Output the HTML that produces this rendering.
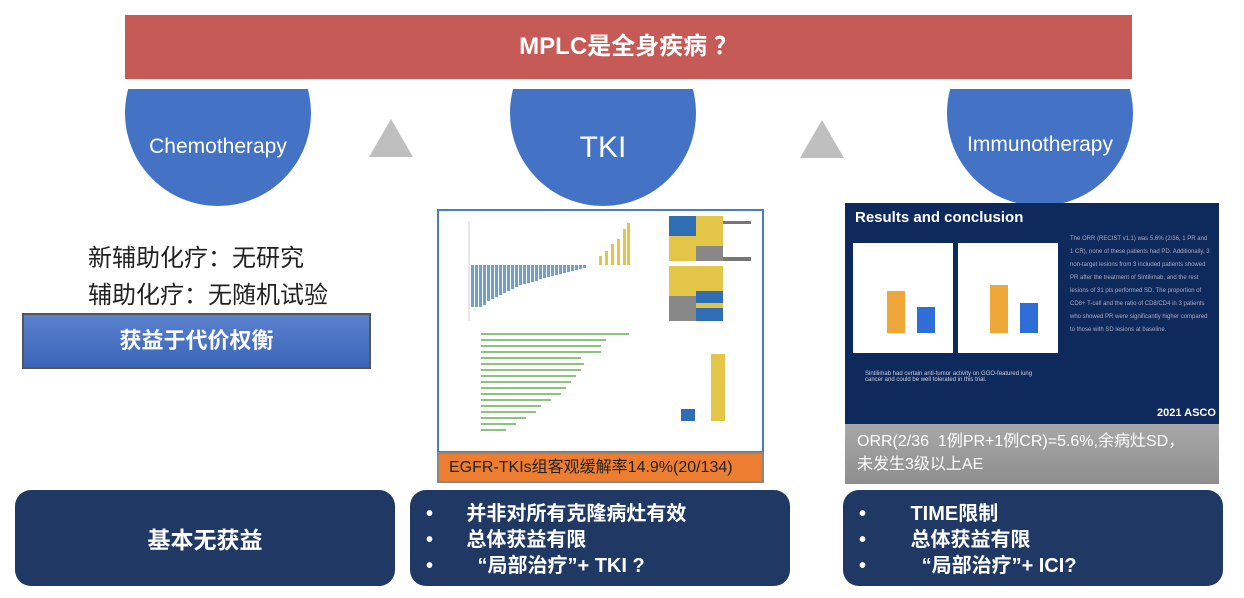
<!DOCTYPE html>
<html><head><meta charset="utf-8"><style>
*{margin:0;padding:0;box-sizing:border-box}
body{width:1244px;height:598px;background:#fff;position:relative;overflow:hidden;font-family:"Liberation Sans","Noto Sans CJK SC",sans-serif}
.a{position:absolute}
.circ{position:absolute;top:89px;height:118px;overflow:hidden}
.circ div{position:absolute;width:186px;height:186px;border-radius:50%;background:#4472c4;top:-69px;left:0}
.circ span{position:absolute;left:0;width:186px;text-align:center;color:#fff;z-index:2}
.box{position:absolute;top:490px;height:96px;background:#1f3864;border-radius:16px;color:#fff;font-weight:bold;font-size:20px}
.box p{position:absolute;left:0;white-space:nowrap;line-height:24px}
</style></head><body>
<div class="a" style="left:125px;top:15px;width:1007px;height:64px;background:#c55a56;color:#fff;font-weight:bold;font-size:24px;text-align:center;line-height:64px">MPLC是全身疾病 ？</div>

<div class="circ" style="left:125px;width:186px"><div></div><span style="top:46px;font-size:21px">Chemotherapy</span></div>
<div class="circ" style="left:510px;width:187px"><div></div><span style="top:42px;font-size:30px">TKI</span></div>
<div class="circ" style="left:947px;width:186px"><div></div><span style="top:44px;font-size:21px">Immunotherapy</span></div>

<svg class="a" style="left:0;top:0" width="1244" height="598">
<polygon points="369,157 413,157 391,119" fill="#bfbfbf"/>
<polygon points="800,158 844,158 822,120" fill="#bfbfbf"/>
</svg>

<div class="a" style="left:88px;top:240px;font-size:24px;color:#222;line-height:37px">新辅助化疗：无研究<br>辅助化疗：无随机试验</div>
<div class="a" style="left:22px;top:313px;width:349px;height:56px;background:linear-gradient(#5b82cf,#3a64b8);border:2px solid #555;color:#fff;font-weight:bold;font-size:22px;text-align:center;line-height:52px">获益于代价权衡</div>

<!-- TKI image -->
<div class="a" style="left:437px;top:209px;width:327px;height:244px;border:2px solid #4a7bc8;background:#fff">
<svg width="323" height="240">
<line x1="30" y1="10" x2="30" y2="110" stroke="#999" stroke-width="0.5"/>
<g fill="#6fa0d0">
<rect x="32" y="54" width="3" height="42"/><rect x="36" y="54" width="3" height="42"/><rect x="40" y="54" width="3" height="42"/><rect x="44" y="54" width="3" height="40"/><rect x="48" y="54" width="3" height="36"/><rect x="52" y="54" width="3" height="34"/><rect x="56" y="54" width="3" height="32"/><rect x="60" y="54" width="3" height="30"/><rect x="64" y="54" width="3" height="28"/><rect x="68" y="54" width="3" height="26"/><rect x="72" y="54" width="3" height="24"/><rect x="76" y="54" width="3" height="22"/><rect x="80" y="54" width="3" height="20"/><rect x="84" y="54" width="3" height="19"/><rect x="88" y="54" width="3" height="18"/><rect x="92" y="54" width="3" height="17"/><rect x="96" y="54" width="3" height="16"/><rect x="100" y="54" width="3" height="14"/><rect x="104" y="54" width="3" height="13"/><rect x="108" y="54" width="3" height="12"/><rect x="112" y="54" width="3" height="11"/><rect x="116" y="54" width="3" height="10"/><rect x="120" y="54" width="3" height="9"/><rect x="124" y="54" width="3" height="8"/><rect x="128" y="54" width="3" height="7"/><rect x="132" y="54" width="3" height="6"/><rect x="136" y="54" width="3" height="5"/><rect x="140" y="54" width="3" height="4"/><rect x="144" y="54" width="3" height="3"/>
</g>
<g fill="#e3c547"><rect x="160" y="45" width="3" height="9"/><rect x="166" y="40" width="3" height="14"/><rect x="172" y="33" width="3" height="21"/><rect x="178" y="28" width="3" height="26"/><rect x="184" y="18" width="3" height="36"/><rect x="188" y="12" width="3" height="42"/></g>
<g fill="#8cc47e">
<rect x="42" y="122" width="148" height="2"/><rect x="42" y="128" width="125" height="2"/><rect x="42" y="134" width="120" height="2"/><rect x="42" y="140" width="120" height="2"/><rect x="42" y="146" width="100" height="2"/><rect x="42" y="152" width="103" height="2"/><rect x="42" y="158" width="100" height="2"/><rect x="42" y="164" width="95" height="2"/><rect x="42" y="170" width="90" height="2"/><rect x="42" y="176" width="85" height="2"/><rect x="42" y="182" width="80" height="2"/><rect x="42" y="188" width="70" height="2"/><rect x="42" y="194" width="60" height="2"/><rect x="42" y="200" width="55" height="2"/><rect x="42" y="206" width="45" height="2"/><rect x="42" y="212" width="35" height="2"/><rect x="42" y="218" width="25" height="2"/>
</g>
<rect x="230" y="5" width="27" height="20" fill="#2f6eb5"/><rect x="257" y="5" width="27" height="20" fill="#e3c547"/>
<rect x="230" y="25" width="54" height="25" fill="#e3c547"/><rect x="257" y="35" width="27" height="15" fill="#888"/>
<rect x="284" y="10" width="28" height="3" fill="#777"/><rect x="284" y="46" width="28" height="4" fill="#777"/>
<rect x="230" y="55" width="54" height="30" fill="#e3c547"/><rect x="230" y="85" width="27" height="25" fill="#888"/><rect x="257" y="80" width="27" height="30" fill="#2f6eb5"/><rect x="257" y="92" width="27" height="5" fill="#e3c547"/>
<rect x="242" y="198" width="14" height="12" fill="#2f6eb5"/><rect x="272" y="143" width="14" height="67" fill="#e3c547"/>
</svg></div>
<div class="a" style="left:437px;top:452px;width:327px;height:31px;background:#ed7d31;border:2px solid #888;color:#222;font-size:16px;line-height:27px;padding-left:10px">EGFR-TKIs组客观缓解率14.9%(20/134)</div>

<!-- Immuno image -->
<div class="a" style="left:845px;top:203px;width:374px;height:225px;background:#0e2a5c">
<div class="a" style="left:10px;top:6px;color:#fff;font-weight:bold;font-size:15px">Results and conclusion</div>
<div class="a" style="left:8px;top:40px;width:100px;height:110px;background:#fff"><div class="a" style="left:34px;top:48px;width:18px;height:42px;background:#f0a73a"></div><div class="a" style="left:64px;top:64px;width:18px;height:26px;background:#2f6ed8"></div></div>
<div class="a" style="left:113px;top:40px;width:100px;height:110px;background:#fff"><div class="a" style="left:32px;top:42px;width:18px;height:48px;background:#f0a73a"></div><div class="a" style="left:62px;top:60px;width:18px;height:30px;background:#2f6ed8"></div></div>
<div class="a" style="left:225px;top:30px;width:140px;font-size:6px;color:#aab;line-height:13px">The ORR (RECIST v1.1) was 5.6% (2/36, 1 PR and 1 CR), none of these patients had PD. Additionally, 3 non-target lesions from 3 included patients showed PR after the treatment of Sintilimab, and the rest lesions of 31 pts performed SD. The proportion of CD8+ T-cell and the ratio of CD8/CD4 in 3 patients who showed PR were significantly higher compared to those with SD lesions at baseline.</div>
<div class="a" style="left:20px;top:168px;font-size:6px;color:#ccd;width:180px">Sintilimab had certain anti-tumor activity on GGO-featured lung cancer and could be well tolerated in this trial.</div>
<div class="a" style="left:312px;top:204px;color:#fff;font-weight:bold;font-size:11px">2021 ASCO</div>
</div>
<div class="a" style="left:845px;top:424px;width:374px;height:60px;background:linear-gradient(#a8a8a8,#8e8e8e);color:#fff;font-size:16px;line-height:23px;padding:6px 0 0 12px">ORR(2/36&nbsp; 1例PR+1例CR)=5.6%,余病灶SD，<br>未发生3级以上AE</div>

<div class="box" style="left:15px;width:380px;font-size:23px;text-align:center;line-height:100px">基本无获益</div>
<div class="box" style="left:410px;width:380px"><p style="top:12px;left:16px">•&nbsp;&nbsp;&nbsp;&nbsp;&nbsp;&nbsp;并非对所有克隆病灶有效</p><p style="top:38px;left:16px">•&nbsp;&nbsp;&nbsp;&nbsp;&nbsp;&nbsp;总体获益有限</p><p style="top:64px;left:16px">•&nbsp;&nbsp;&nbsp;&nbsp;&nbsp;&nbsp;&nbsp;&nbsp;“局部治疗”+ TKI ?</p></div>
<div class="box" style="left:843px;width:380px"><p style="top:12px;left:16px">•&nbsp;&nbsp;&nbsp;&nbsp;&nbsp;&nbsp;&nbsp;&nbsp;TIME限制</p><p style="top:38px;left:16px">•&nbsp;&nbsp;&nbsp;&nbsp;&nbsp;&nbsp;&nbsp;&nbsp;总体获益有限</p><p style="top:64px;left:16px">•&nbsp;&nbsp;&nbsp;&nbsp;&nbsp;&nbsp;&nbsp;&nbsp;&nbsp;&nbsp;“局部治疗”+ ICI?</p></div>
</body></html>
